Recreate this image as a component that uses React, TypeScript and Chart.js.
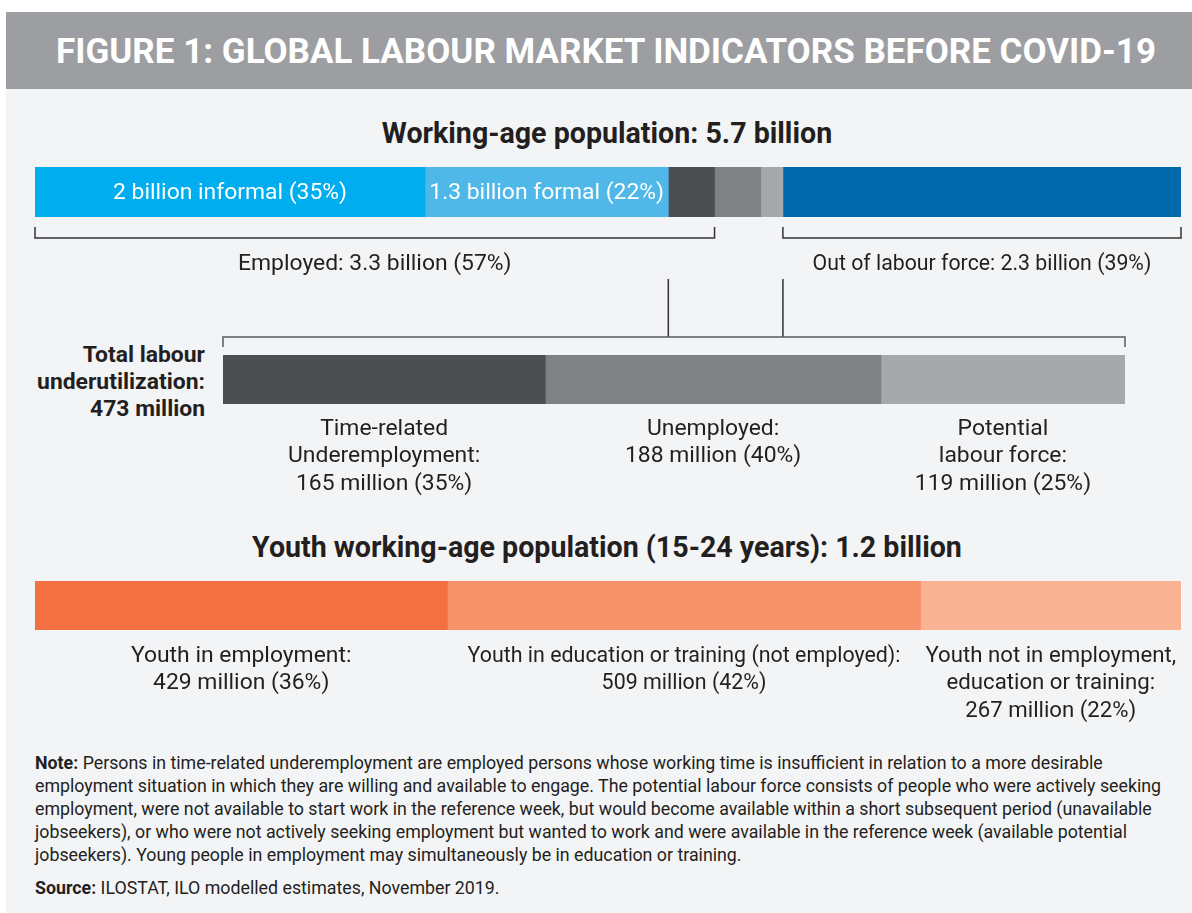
import React, { useEffect, useRef } from 'react';
import { Chart, registerables } from 'chart.js';

Chart.register(...registerables);

const TEXT = '#231f20';
const FONT = 'Roboto';
const LABEL_PX = 22.9;

// Working-age population: 5.7 billion (segment sizes in billions, as drawn)
const workingAgeCategories = [
  'Informal employment',
  'Formal employment',
  'Time-related underemployment',
  'Unemployed',
  'Potential labour force',
  'Out of labour force',
];
const workingAgeValues = [1.94, 1.21, 0.23, 0.23, 0.11, 1.98];
const workingAgeColors = ['#00aeef', '#4fb8e9', '#4d4e51', '#808184', '#a7a8ab', '#006aad'];
const workingAgeInnerLabels = ['2 billion informal (35%)', '1.3 billion formal (22%)', '', '', '', ''];
const employedLabel = 'Employed: 3.3 billion (57%)';
const outOfLabourLabel = 'Out of labour force: 2.3 billion (39%)';

// Total labour underutilization: 473 million (segment sizes in millions, as drawn)
const underutilCategories = ['Time-related underemployment', 'Unemployed', 'Potential labour force'];
const underutilValues = [169, 176, 128];
const underutilColors = ['#4d4e51', '#808184', '#a7a8ab'];
const underutilLabels = [
  ['Time-related', 'Underemployment:', '165 million (35%)'],
  ['Unemployed:', '188 million (40%)'],
  ['Potential', 'labour force:', '119 million (25%)'],
];

// Youth working-age population: 1.2 billion (segment sizes in millions, as drawn)
const youthCategories = [
  'Youth in employment',
  'Youth in education or training (not employed)',
  'Youth not in employment, education or training',
];
const youthValues = [434, 498, 274];
const youthColors = ['#f37043', '#f7926b', '#f9b393'];
const youthLabels = [
  ['Youth in employment:', '429 million (36%)'],
  ['Youth in education or training (not employed):', '509 million (42%)'],
  ['Youth not in employment,', 'education or training:', '267 million (22%)'],
];

// horizontal condensing applied to some label blocks (typographic style)
const youthLabelCondense = [1, 0.935, 0.97];
const outOfLabourCondense = 0.93;

function edgesOf(chart: any, values: number[]) {
  const x = chart.scales.x;
  let acc = 0;
  const out = [x.getPixelForValue(0)];
  values.forEach((v) => {
    acc += v;
    out.push(x.getPixelForValue(acc));
  });
  return out;
}

function makeConfig(categories: string[], values: number[], colors: string[], padding: any, plugin: any) {
  const total = values.reduce((a, b) => a + b, 0);
  return {
    type: 'bar' as const,
    data: {
      labels: [''],
      datasets: categories.map((c, i) => ({
        label: c,
        data: [values[i]],
        backgroundColor: colors[i],
        borderWidth: 0,
        barPercentage: 1,
        categoryPercentage: 1,
      })),
    },
    options: {
      indexAxis: 'y' as const,
      animation: false as const,
      responsive: false,
      maintainAspectRatio: false,
      layout: { padding },
      scales: {
        x: { stacked: true, min: 0, max: total, display: false },
        y: { stacked: true, display: false },
      },
      plugins: { legend: { display: false }, tooltip: { enabled: false } },
    },
    plugins: [plugin],
  };
}

function drawBracketDown(ctx: CanvasRenderingContext2D, x1: number, x2: number, lineY: number, tickY: number) {
  ctx.beginPath();
  ctx.moveTo(x1, tickY);
  ctx.lineTo(x1, lineY);
  ctx.lineTo(x2, lineY);
  ctx.lineTo(x2, tickY);
  ctx.stroke();
}

function fillCondensed(ctx: CanvasRenderingContext2D, t: string, cx: number, y: number, sx: number) {
  ctx.save();
  ctx.translate(cx, y);
  ctx.scale(sx, 1);
  ctx.fillText(t, 0, 0);
  ctx.restore();
}

function drawLines(ctx: CanvasRenderingContext2D, lines: string[], cx: number, y0: number, lh: number, sx = 1) {
  lines.forEach((t, k) => fillCondensed(ctx, t, cx, y0 + k * lh, sx));
}

const workingAgePlugin = {
  id: 'workingAgeAnnotations',
  afterDatasetsDraw(chart: any) {
    const ctx = chart.ctx as CanvasRenderingContext2D;
    const e = edgesOf(chart, workingAgeValues);
    const { top, bottom } = chart.chartArea;
    ctx.save();
    ctx.font = `${LABEL_PX}px ${FONT}`;
    ctx.textAlign = 'center';
    ctx.textBaseline = 'middle';
    ctx.fillStyle = '#ffffff';
    workingAgeInnerLabels.forEach((t, i) => {
      if (t) ctx.fillText(t, (e[i] + e[i + 1]) / 2, (top + bottom) / 2 + 1);
    });
    ctx.strokeStyle = '#333335';
    ctx.lineWidth = 1.5;
    drawBracketDown(ctx, e[0], e[3], bottom + 21, bottom + 10);
    drawBracketDown(ctx, e[5], e[6], bottom + 21, bottom + 10);
    ctx.fillStyle = TEXT;
    ctx.fillText(employedLabel, (e[0] + e[3]) / 2, bottom + 47);
    fillCondensed(ctx, outOfLabourLabel, (e[5] + e[6]) / 2, bottom + 47, outOfLabourCondense);
    ctx.beginPath();
    ctx.moveTo(e[2], bottom + 62);
    ctx.lineTo(e[2], bottom + 120);
    ctx.moveTo(e[5], bottom + 62);
    ctx.lineTo(e[5], bottom + 120);
    ctx.stroke();
    ctx.restore();
  },
};

const underutilPlugin = {
  id: 'underutilAnnotations',
  afterDatasetsDraw(chart: any) {
    const ctx = chart.ctx as CanvasRenderingContext2D;
    const e = edgesOf(chart, underutilValues);
    const { top, bottom } = chart.chartArea;
    ctx.save();
    ctx.strokeStyle = '#58595b';
    ctx.lineWidth = 1.5;
    ctx.beginPath();
    ctx.moveTo(e[0], top - 8);
    ctx.lineTo(e[0], top - 18);
    ctx.lineTo(e[e.length - 1], top - 18);
    ctx.lineTo(e[e.length - 1], top - 8);
    ctx.stroke();
    ctx.font = `${LABEL_PX}px ${FONT}`;
    ctx.textAlign = 'center';
    ctx.textBaseline = 'middle';
    ctx.fillStyle = TEXT;
    underutilLabels.forEach((lines, i) => drawLines(ctx, lines, (e[i] + e[i + 1]) / 2, bottom + 25, 27.5));
    ctx.restore();
  },
};

const youthPlugin = {
  id: 'youthAnnotations',
  afterDatasetsDraw(chart: any) {
    const ctx = chart.ctx as CanvasRenderingContext2D;
    const e = edgesOf(chart, youthValues);
    const { bottom } = chart.chartArea;
    ctx.save();
    ctx.font = `${LABEL_PX}px ${FONT}`;
    ctx.textAlign = 'center';
    ctx.textBaseline = 'middle';
    ctx.fillStyle = TEXT;
    youthLabels.forEach((lines, i) =>
      drawLines(ctx, lines, (e[i] + e[i + 1]) / 2, bottom + 26, 27.5, youthLabelCondense[i])
    );
    ctx.restore();
  },
};

function BarCanvas(props: { top: number; height: number; config: any }) {
  const ref = useRef<HTMLCanvasElement | null>(null);
  useEffect(() => {
    if (!ref.current) return;
    let chart: Chart | null = null;
    let cancelled = false;
    const build = () => {
      if (cancelled || !ref.current) return;
      chart = new Chart(ref.current, props.config);
    };
    if ((document as any).fonts && (document as any).fonts.load) {
      Promise.all([
        (document as any).fonts.load(`${LABEL_PX}px ${FONT}`),
        (document as any).fonts.load(`bold ${LABEL_PX}px ${FONT}`),
      ])
        .catch(() => null)
        .then(build);
    } else build();
    return () => {
      cancelled = true;
      if (chart) chart.destroy();
    };
  }, []);
  return (
    <canvas
      ref={ref}
      width={1192}
      height={props.height}
      style={{ position: 'absolute', left: 0, top: props.top, width: 1192, height: props.height }}
    />
  );
}

export default function App() {
  const cfg1 = makeConfig(workingAgeCategories, workingAgeValues, workingAgeColors, { left: 35, right: 11, top: 7, bottom: 133 }, workingAgePlugin);
  const cfg2 = makeConfig(underutilCategories, underutilValues, underutilColors, { left: 223, right: 67, top: 25, bottom: 96 }, underutilPlugin);
  const cfg3 = makeConfig(youthCategories, youthValues, youthColors, { left: 35, right: 11, top: 11, bottom: 100 }, youthPlugin);

  const base: React.CSSProperties = { position: 'absolute', fontFamily: FONT, color: TEXT, whiteSpace: 'nowrap' };

  return (
    <div style={{ position: 'absolute', left: 0, top: 0, width: 1192, height: 913, background: '#ffffff', overflow: 'hidden' }}>
      <div style={{ position: 'absolute', left: 6, top: 12, width: 1186, height: 77, background: '#9d9ea2' }} />
      <div style={{ position: 'absolute', left: 6, top: 89, width: 1186, height: 824, background: '#f3f4f6' }} />
      <div
        style={{
          ...base,
          left: 0,
          top: 32,
          width: 1212,
          height: 40,
          lineHeight: '40px',
          textAlign: 'center',
          color: '#ffffff',
          fontWeight: 700,
          fontSize: 35,
        }}
      >
        FIGURE 1: GLOBAL LABOUR MARKET INDICATORS BEFORE COVID-19
      </div>
      <div style={{ ...base, left: 0, top: 116, width: 1214, height: 34, lineHeight: '34px', textAlign: 'center', fontWeight: 700, fontSize: 28.6 }}>
        Working-age population: 5.7 billion
      </div>
      <div style={{ ...base, left: 0, top: 530, width: 1214, height: 34, lineHeight: '34px', textAlign: 'center', fontWeight: 700, fontSize: 28.6 }}>
        Youth working-age population (15-24 years): 1.2 billion
      </div>
      <div style={{ ...base, left: 0, top: 340.5, width: 205, lineHeight: '27px', textAlign: 'right', fontWeight: 700, fontSize: 22.9 }}>
        Total labour
        <br />
        underutilization:
        <br />
        473 million
      </div>
      <BarCanvas top={160} height={190} config={cfg1} />
      <BarCanvas top={330} height={170} config={cfg2} />
      <BarCanvas top={570} height={160} config={cfg3} />
      <div style={{ ...base, left: 35, top: 750.5, lineHeight: '23px', fontSize: 17.8 }}>
        <b>Note:</b> Persons in time-related underemployment are employed persons whose working time is insufficient in relation to a more desirable
        <br />
        employment situation in which they are willing and available to engage. The potential labour force consists of people who were actively seeking
        <br />
        employment, were not available to start work in the reference week, but would become available within a short subsequent period (unavailable
        <br />
        jobseekers), or who were not actively seeking employment but wanted to work and were available in the reference week (available potential
        <br />
        jobseekers). Young people in employment may simultaneously be in education or training.
      </div>
      <div style={{ ...base, left: 35, top: 875.5, lineHeight: '23px', fontSize: 17.8 }}>
        <b>Source:</b> ILOSTAT, ILO modelled estimates, November 2019.
      </div>
    </div>
  );
}
